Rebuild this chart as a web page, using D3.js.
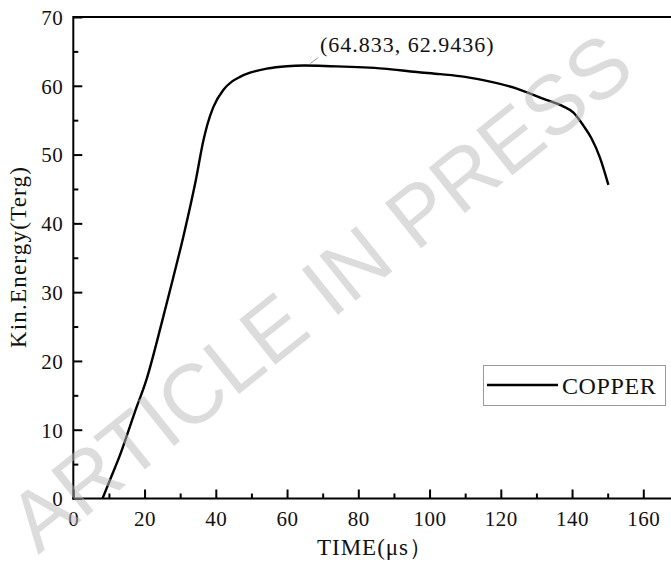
<!DOCTYPE html>
<html>
<head>
<meta charset="utf-8">
<script src="https://cdn.jsdelivr.net/npm/d3@7"></script>
<style>
  body { margin: 0; background: #fff; }
  svg { display: block; }
  text { font-family: "Liberation Serif", "Times New Roman", serif; fill: #111; }
  text.watermark { font-family: "Liberation Sans", Arial, sans-serif; }
</style>
</head>
<body>
<div id="chart"></div>
<script>
// time (us) and kinetic energy (Terg)
const time = [8.2, 10.3, 13.1, 17.3, 20.6, 24.8, 27.9, 30.9, 34.4, 36.5, 37.6, 39.3, 42.1, 44.5,
  46.8, 49.6, 54.3, 59.9, 64.833, 72.1, 87.0, 96.4, 103.0, 110.0, 117.0, 124.5, 132.0, 137.5,
  140.4, 143.2, 145.4, 147.8, 150.2];
const energy = [0, 2.7, 6.3, 12.6, 17.4, 25.5, 31.8, 38.1, 46.3, 52.0, 54.3, 56.9, 59.4, 60.6,
  61.3, 61.9, 62.5, 62.85, 62.9436, 62.85, 62.5, 62.0, 61.7, 61.3, 60.6, 59.6, 58.1, 57.0,
  56.1, 54.2, 52.4, 49.6, 45.6];
const xTicks = [0, 20, 40, 60, 80, 100, 120, 140, 160];
const yTicks = [0, 10, 20, 30, 40, 50, 60, 70];
const seriesName = "COPPER";
const peak = [64.833, 62.9436];

const W = 671, H = 562;
const svg = d3.select("#chart").append("svg")
  .attr("width", W)
  .attr("height", H);

const x = d3.scaleLinear().domain([0, 168]).range([73.3, 671.8]);
const y = d3.scaleLinear().domain([0, 70]).range([498.5, 17]);

const data = time.map((t, i) => ({t: t, e: energy[i]}));

// curve
const line = d3.line()
  .x(d => x(d.t))
  .y(d => y(d.e))
  .curve(d3.curveMonotoneX);

svg.append("path")
  .datum(data)
  .attr("d", line)
  .attr("fill", "none")
  .attr("stroke", "#000")
  .attr("stroke-width", 2.4)
  .attr("stroke-linejoin", "round");

// frame line at the top
svg.append("line")
  .attr("x1", x(0)).attr("x2", W)
  .attr("y1", y(70)).attr("y2", y(70))
  .attr("stroke", "#000").attr("stroke-width", 2);

// x axis, ticks pointing inward
const minorX = d3.range(10, 170, 20);
svg.append("g")
  .attr("transform", `translate(0 ${y(0)})`)
  .call(d3.axisTop(x).tickValues(minorX).tickSize(5).tickFormat(""))
  .call(g => g.select(".domain").remove())
  .selectAll("line").attr("stroke-width", 2);

const gx = svg.append("g")
  .attr("transform", `translate(0 ${y(0)})`)
  .call(d3.axisTop(x).tickValues(xTicks).tickSize(9).tickFormat(d3.format("d")));
gx.select(".domain").remove();
gx.selectAll("line").attr("stroke-width", 2);
gx.selectAll("text")
  .attr("y", 27)
  .attr("dy", 0)
  .style("font-size", "21px")
  .style("letter-spacing", "0.5px");

svg.append("line")
  .attr("x1", x(0) - 1).attr("x2", W)
  .attr("y1", y(0)).attr("y2", y(0))
  .attr("stroke", "#000").attr("stroke-width", 2);

// y axis, ticks pointing inward
const minorY = d3.range(5, 70, 10);
svg.append("g")
  .attr("transform", `translate(${x(0)} 0)`)
  .call(d3.axisRight(y).tickValues(minorY).tickSize(5).tickFormat(""))
  .call(g => g.select(".domain").remove())
  .selectAll("line").attr("stroke-width", 2);

const gy = svg.append("g")
  .attr("transform", `translate(${x(0)} 0)`)
  .call(d3.axisRight(y).tickValues(yTicks).tickSize(9).tickFormat(d3.format("d")));
gy.select(".domain").remove();
gy.selectAll("line").attr("stroke-width", 2);
gy.selectAll("text")
  .attr("x", -10)
  .attr("dy", "0.35em")
  .attr("text-anchor", "end")
  .style("font-size", "21px")
  .style("letter-spacing", "0.5px");

svg.append("line")
  .attr("x1", x(0)).attr("x2", x(0))
  .attr("y1", y(70) - 1).attr("y2", y(0) + 1)
  .attr("stroke", "#000").attr("stroke-width", 2);

// axis titles
svg.append("text")
  .attr("x", 375)
  .attr("y", 555)
  .attr("text-anchor", "middle")
  .style("font-size", "23px")
  .style("letter-spacing", "1px")
  .text("TIME(μs）");

svg.append("text")
  .attr("transform", `translate(26 257) rotate(-90)`)
  .attr("text-anchor", "middle")
  .style("font-size", "23px")
  .style("letter-spacing", "1.2px")
  .text("Kin.Energy(Terg)");

// peak label with small leader line
svg.append("line")
  .attr("x1", x(peak[0]) + 6).attr("y1", y(peak[1]) - 2)
  .attr("x2", x(peak[0]) + 14).attr("y2", y(peak[1]) - 8)
  .attr("stroke", "#999").attr("stroke-width", 1);

svg.append("text")
  .attr("x", 320)
  .attr("y", 52)
  .style("font-size", "22px")
  .style("letter-spacing", "1px")
  .text(`(${peak[0]}, ${peak[1]})`);

// legend
const legend = svg.append("g");
legend.append("rect")
  .attr("x", 483.5).attr("y", 365.5)
  .attr("width", 182).attr("height", 40)
  .attr("fill", "#fff")
  .attr("stroke", "#999")
  .attr("stroke-width", 1);
legend.append("line")
  .attr("x1", 487).attr("x2", 558)
  .attr("y1", 385).attr("y2", 385)
  .attr("stroke", "#000").attr("stroke-width", 2.4);
legend.append("text")
  .attr("x", 562)
  .attr("y", 394)
  .style("font-size", "24px")
  .style("letter-spacing", "0.6px")
  .text(seriesName);

// watermark
svg.append("text")
  .attr("class", "watermark")
  .attr("transform", "translate(320 292) rotate(-38.7)")
  .attr("text-anchor", "middle")
  .attr("dominant-baseline", "central")
  .style("font-size", "84px")
  .style("fill", "rgb(185,185,185)")
  .style("fill-opacity", 0.5)
  .text("ARTICLE IN PRESS");
</script>
</body>
</html>
